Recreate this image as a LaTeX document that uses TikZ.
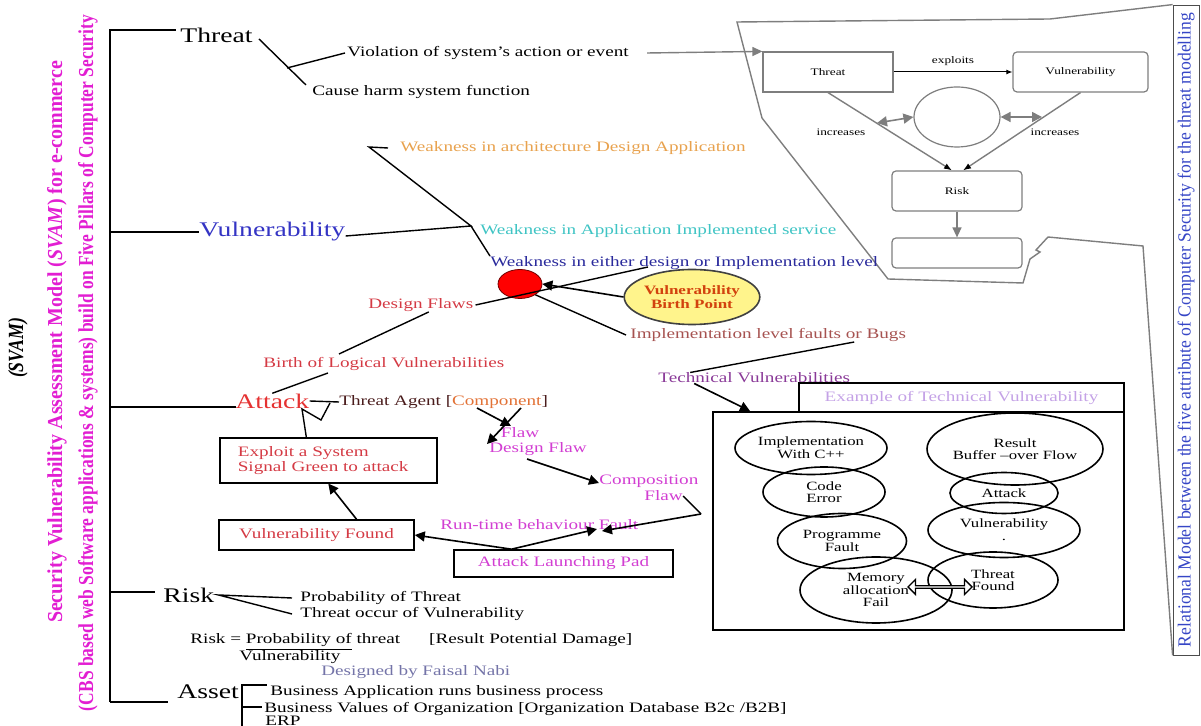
\documentclass[tikz,border=0pt]{standalone}
\usepackage{graphicx}
\usepackage{fontspec}
\setmainfont[FakeStretch=1.33]{Liberation Serif}
\newfontfamily\uprightserif{Liberation Serif}
\usetikzlibrary{arrows.meta,shapes.geometric,shapes.arrows}

\definecolor{svammag}{HTML}{E21ED2}
\definecolor{vulblue}{HTML}{3434C4}
\definecolor{attred}{HTML}{E53232}
\definecolor{flawred}{HTML}{D43A44}
\definecolor{archorange}{HTML}{E8A24E}
\definecolor{svccyan}{HTML}{3FC4C4}
\definecolor{eitherblue}{HTML}{2A2A9C}
\definecolor{bugbrown}{HTML}{A65250}
\definecolor{techpurple}{HTML}{8A3A98}
\definecolor{expurple}{HTML}{C4A2E6}
\definecolor{flowmag}{HTML}{D23ED2}
\definecolor{comporange}{HTML}{E27236}
\definecolor{agentdark}{HTML}{4A1C1C}
\definecolor{nabigray}{HTML}{7474A8}
\definecolor{relblue}{HTML}{3646C6}
\definecolor{birthtext}{HTML}{D2420E}
\definecolor{birthfill}{HTML}{FFF48C}
\definecolor{relgray}{HTML}{7E7E7E}

\begin{document}
\begin{tikzpicture}[x=0.5pt,y=-0.5pt,
    txt/.style={inner sep=0pt, font=\fontsize{7.2}{8.4}\selectfont},
    headtxt/.style={inner sep=0pt, font=\fontsize{10.4}{12}\selectfont},
    reltxt/.style={inner sep=0pt, font=\fontsize{5}{6}\selectfont},
    relbox/.style={draw=relgray, line width=0.6pt, minimum width=65pt, minimum height=20pt, reltxt},
    flowbox/.style={draw, line width=0.8pt, txt},
    ovalnode/.style={draw, ellipse, line width=0.8pt, inner sep=0pt, align=center, font=\fontsize{6.3}{6.3}\selectfont},
    link/.style={line width=0.7pt},
    flowarrow/.style={line width=0.8pt, -{Triangle[length=5pt,width=5pt]}},
    grayarrow/.style={relgray, line width=0.7pt, -{Triangle[length=5pt,width=4.5pt]}},
    tinyarrow/.style={relgray, line width=0.7pt, -{Latex[color=black,length=4pt,width=3pt]}},
    twinarrow/.style={relgray, line width=0.8pt, {Triangle[length=5pt,width=5pt]}-{Triangle[length=5pt,width=5pt]}},
]
\useasboundingbox (0,0) rectangle (1201,726);

\node[rotate=90] (svamtag) at (18,348)
    {\resizebox{30pt}{7.5pt}{\uprightserif\bfseries\itshape (SVAM)}};
\node[rotate=90, text=svammag] (svamname) at (57,342)
    {\resizebox{281pt}{7.5pt}{\uprightserif\bfseries Security Vulnerability Assessment Model (\textit{SVAM}) for e-commerce}};
\node[rotate=90, text=svammag] (svambase) at (88,363)
    {\resizebox{348pt}{7.5pt}{\uprightserif\bfseries (CBS based web Software applications \& systems) build on Five Pillars of Computer Security}};

\coordinate (treetop) at (110,30);
\coordinate (treebot) at (110,702);
\draw[link] (treebot) -- (treetop) -- (176,30);

\node[headtxt, anchor=west] (threat) at (180,35) {Threat};
\node[txt, anchor=west] (violation) at (347,53) {Violation of system's action or event};
\node[txt, anchor=west] (harm) at (312,92) {Cause harm system function};
\coordinate (thrfork) at (287,68);
\draw[link] ([xshift=3pt,yshift=-2pt]threat.east) -- ([xshift=-3pt]harm.north west);
\draw[link] (thrfork) -- ([xshift=-1pt]violation.west);

% relational model
\node[draw=black!70, rotate=90, minimum width=325pt, minimum height=13pt, inner sep=0pt, text=relblue] (relstrip) at (1186,330)
    {\resizebox{317pt}{6.5pt}{\uprightserif Relational Model between the five attribute of Computer Security for the threat modelling}};
\draw[relgray, line width=0.7pt] (relstrip.north east) -- (1050,19) -- (737,22) -- (762,118) -- (888,279) -- (1023,283)
    -- (1030,259) -- (1040,252) -- (1036,250) -- (1048,237) -- (1143,246) -- (relstrip.north west);
\node[relbox] (thrbox) at (828,72) {Threat};
\node[relbox, rounded corners=2pt, minimum width=67.5pt] (vulbox) at (1080.5,72) {Vulnerability};
\node[draw=relgray, line width=0.6pt, ellipse, minimum width=43pt, minimum height=30pt, inner sep=0pt] (hub) at (957,117) {};
\node[relbox, rounded corners=2pt] (riskbox) at (957,191) {Risk};
\node[relbox, rounded corners=2pt, minimum height=15pt] (outbox) at (957,253) {};
\draw[line width=0.5pt, -{Latex[length=3pt,width=2.5pt]}] (thrbox) -- node[reltxt, above=3pt] (exploitslbl) {exploits} (vulbox);
\draw[tinyarrow] (thrbox.south) -- ([xshift=-2.5pt]riskbox.north);
\draw[tinyarrow] (vulbox.south) -- ([xshift=3pt]riskbox.north);
\node[reltxt] (incleft) at (841,132) {increases};
\node[reltxt] (incright) at (1055,132) {increases};
\draw[twinarrow] (877,123) -- (hub.west);
\draw[twinarrow] (hub.east) -- (1042,117);
\draw[grayarrow] (riskbox) -- (outbox);
\draw[grayarrow] ([xshift=9pt]violation.east) -- (thrbox.north west);

% vulnerability
\node[headtxt, anchor=west, text=vulblue] (vuln) at (199,232) {Vulnerability};
\draw[link] (110,232) -- (vuln.west);
\coordinate (vulfork) at (471,226);
\node[txt, anchor=west, text=archorange] (archweak) at (400,148) {Weakness in architecture Design Application};
\node[txt, anchor=west, text=svccyan] (svcweak) at (480,231) {Weakness in Application Implemented service};
\node[txt, anchor=west, text=eitherblue] (eitherweak) at (490,263) {Weakness in either design or Implementation level};
\draw[link] ([yshift=-2pt]vuln.east) -- (vulfork) -- (369,147) -- ([xshift=-6pt]archweak.west);
\draw[link] (vulfork) -- (eitherweak.north west);

\node[ellipse, draw=red!45!black, fill=red, minimum width=22pt, minimum height=14.5pt, inner sep=0pt] (birthdot) at (520,284) {};
\node[ellipse, draw=black!75, line width=0.8pt, fill=birthfill, minimum width=64.5pt, minimum height=27.5pt, inner sep=0pt,
    align=center, text=birthtext, font=\fontsize{6.4}{7}\selectfont\bfseries] (birthpt) at (692,297) {Vulnerability\\Birth Point};
\node[txt, anchor=west, text=bugbrown] (bugs) at (630,335) {Implementation level faults or Bugs};
\node[txt, anchor=west, text=flawred] (dflaws) at (368,305) {Design Flaws};
\draw[link] ([xshift=1pt]dflaws.east) -- (648,267);
\draw[link] (birthdot.-35) -- ([xshift=-2pt]bugs.west);
\draw[flowarrow] (birthpt.west) -- (birthdot.east);

% attack
\node[headtxt, anchor=west, text=attred] (attack) at (235,401) {Attack};
\draw[link] (110,407) -- (236,407);
\node[txt, anchor=west, text=agentdark] (agent) at (339,402) {Threat Agent [\textcolor{comporange}{Component}]};
\draw[link] (attack.east) -- (agent.west);
\node[txt, anchor=west, text=flawred] (birthlogic) at (263,364) {Birth of Logical Vulnerabilities};
\draw[link] (attack.north) -- (328,373);
\draw[link] (339,354) -- ([xshift=4pt]dflaws.south);

\node[flowbox, anchor=north west, inner xsep=9pt, inner ysep=0pt, text width=90.5pt, minimum height=22.5pt, align=left,
    text=flawred, font=\fontsize{7.2}{7.5}\selectfont] (exploit) at (219,437) {Exploit a System\\Signal Green to attack};
\node[flowbox, minimum width=97.5pt, minimum height=15pt, inner sep=0pt, text=flawred] (vfound) at (316.5,535) {Vulnerability Found};
\node[flowbox, minimum width=109.5pt, minimum height=13.5pt, inner sep=0pt, text=flowmag] (launchpad) at (563.5,563.5) {Attack Launching Pad};
\draw[link] ([xshift=-11pt]exploit.north) -- (302,409) -- (321,420) -- (330,403);

\node[txt, text=flowmag] (flaw) at (520,433) {Flaw};
\node[txt, anchor=west, text=flowmag] (designflaw) at (489,449) {Design Flaw};
\node[txt, anchor=west, text=flowmag] (compflaw) at (599,481) {Composition};
\node[txt, anchor=west, text=flowmag] (compflawb) at (644,496) {Flaw};
\node[txt, anchor=west, text=flowmag] (runtime) at (440,525) {Run-time behaviour Fault};
\draw[flowarrow] (477,408) -- (511,426);
\draw[flowarrow] (521,408) -- (487,444);
\draw[flowarrow] (527,459) -- ([yshift=-1pt]compflaw.west);
\draw[link] (compflawb.east) -- (701,514);
\draw[flowarrow] (701,514) -- (602,531);
\draw[flowarrow] ([xshift=-26pt]launchpad.north) -- (597,529);
\draw[flowarrow] ([xshift=-26pt]launchpad.north) -- (vfound.east);
\draw[flowarrow] ([xshift=20pt]vfound.north) -- (exploit.south);

% technical
\node[txt, anchor=west, text=techpurple] (techvul) at (658,378) {Technical Vulnerabilities};
\node[draw, line width=0.8pt, minimum width=162.5pt, minimum height=14.5pt, txt, text=expurple] (exhead) at (961.5,397.5) {Example of Technical Vulnerability};
\node[draw, line width=0.8pt, minimum width=205.5pt, minimum height=109pt, inner sep=0pt] (exbox) at (918.5,521) {};
\draw[link] ([xshift=43pt]bugs.south) -- ([xshift=-32pt]techvul.north);
\draw[flowarrow] ([xshift=-30pt]techvul.south) -- (750,411);

\node[ovalnode, minimum width=76pt, minimum height=26.5pt] (implc) at (811,448) {Implementation\\With C++};
\node[ovalnode, minimum width=61pt, minimum height=25pt] (codeerr) at (824,492) {Code\\Error};
\node[ovalnode, minimum width=64.5pt, minimum height=27.5pt] (progfault) at (842,541) {Programme\\Fault};
\node[ovalnode, minimum width=76pt, minimum height=33pt] (memfail) at (876,590) {Memory\\allocation\\Fail};
\node[ovalnode, minimum width=87pt, minimum height=36pt] (overflow) at (1015,449) {Result\\Buffer --over Flow};
\node[ovalnode, minimum width=54pt, minimum height=20.5pt] (exattack) at (1004,493) {Attack};
\node[ovalnode, minimum width=76pt, minimum height=27.5pt] (exvul) at (1004,530) {Vulnerability\\.};
\node[ovalnode, minimum width=65pt, minimum height=28pt] (thrfound) at (993,580) {Threat\\Found};
\node[double arrow, draw, line width=0.7pt, fill=white, minimum height=32pt, minimum width=7.5pt, double arrow head extend=1.8pt, inner sep=0pt] (memlink) at (940,587) {};

% risk and asset
\node[headtxt, anchor=west] (risk) at (163,595) {Risk};
\draw[link] (110,592) -- (155,592);
\node[txt, anchor=west] (probthreat) at (300,598) {Probability of Threat};
\node[txt, anchor=west] (occur) at (300,614) {Threat occur of Vulnerability};
\draw[link] ([xshift=-4pt]probthreat.west) -- ([xshift=2pt]risk.east) -- ([xshift=-4pt]occur.west);
\node[txt, anchor=west] (formula) at (190,642) {Risk = \underline{Probability of} threat\hspace{14.5pt}[Result Potential Damage]};
\node[txt, anchor=west] (denom) at (239,657) {Vulnerability};
\node[txt, anchor=west, text=nabigray] (designer) at (321,672) {Designed by Faisal Nabi};

\node[headtxt, anchor=west] (asset) at (177,692) {Asset};
\draw[link] (treebot) -- (168,702);
\draw[link] (242,740) -- (242,685) -- (267,685);
\draw[link] (242,707) -- (262,707);
\node[txt, anchor=west] (bizapp) at (270,692) {Business Application runs business process};
\node[txt, anchor=west] (bizval) at (264,709) {Business Values of Organization [Organization Database B2c /B2B]};
\node[txt, anchor=west] (erp) at (265,721) {ERP};
\end{tikzpicture}
\end{document}
